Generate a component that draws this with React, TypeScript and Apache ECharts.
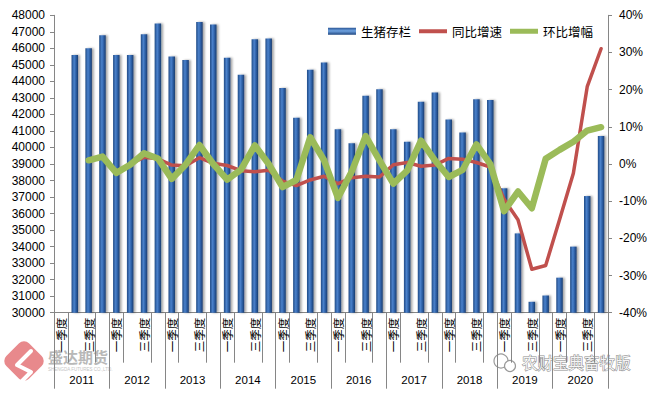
import React, { useEffect, useRef } from "react";
import * as echarts from "echarts";

const years = ["2011", "2012", "2013", "2014", "2015", "2016", "2017", "2018", "2019", "2020"];
const quarterNames = ["一季度", "二季度", "三季度", "四季度"];
const quarterCats: string[] = [];
years.forEach((y) => quarterNames.forEach((q) => quarterCats.push(y + "-" + q)));

// 生猪存栏 (万头)
const stock: (number | string)[] = [
  "-", 45600, 46000, 46800,
  45600, 45600, 46850, 47500,
  45500, 45300, 47600, 47450,
  45430, 44400, 46550, 46600,
  43600, 41800, 44700, 45150,
  41100, 40250, 43130, 43520,
  41100, 40350, 42770, 43320,
  41700, 40900, 42920, 42870,
  37530, 34800, 30660, 31040,
  32120, 34000, 37060, 40690,
];
// 同比增速 (%)
const yoy: (number | string)[] = [
  "-", "-", "-", "-",
  "-", 0.0, 1.8, 1.4,
  -0.3, -0.5, 1.7, 0.2,
  -0.4, -1.8, -2.1, -1.7,
  -4.6, -5.8, -4.3, -3.3,
  -5.3, -3.7, -3.3, -3.5,
  -0.2, 0.4, -0.6, -0.3,
  1.5, 1.3, 0.4, -0.8,
  -9.5, -15.0, -28.3, -27.3,
  -15.0, -2.5, 20.8, 31.0,
];
// 环比增幅 (%)
const qoq: (number | string)[] = [
  "-", "-", 1.0, 2.0,
  -2.4, -0.2, 2.9, 1.5,
  -4.0, -0.2, 5.1, 0.0,
  -4.2, -1.5, 5.0, 0.0,
  -6.2, -4.3, 7.2, 1.0,
  -9.1, -2.0, 7.5, 1.0,
  -5.3, -1.8, 6.3, 1.0,
  -3.5, -1.6, 5.3, 0.0,
  -12.7, -7.4, -11.9, 1.4,
  3.8, 6.0, 9.0, 9.9,
];

const AXIS_COLOR = "#868686";
const LATIN = "'Liberation Sans', Arial, sans-serif";
const CJK = "'Noto Sans CJK SC', sans-serif";

export default function App() {
  const ref = useRef<HTMLDivElement>(null);
  useEffect(() => {
    document.body.style.margin = "0";
    const chart = echarts.init(ref.current!, null, { renderer: "svg" });
    const barGrad = new echarts.graphic.LinearGradient(0, 0, 1, 0, [
      { offset: 0, color: "#1f4a85" },
      { offset: 0.4, color: "#4b82cc" },
      { offset: 0.7, color: "#2c5ea4" },
      { offset: 1, color: "#1a3c6e" },
    ]);
    const legendBarGrad = new echarts.graphic.LinearGradient(0, 0, 0, 1, [
      { offset: 0, color: "#2a5595" },
      { offset: 0.45, color: "#6fa2e0" },
      { offset: 1, color: "#1f4680" },
    ]);
    chart.setOption({
      animation: false,
      backgroundColor: "#ffffff",
      grid: { left: 54, right: 47, top: 15.3, bottom: 81.3, containLabel: false },
      legend: {
        right: 57,
        top: 20,
        itemWidth: 28,
        itemHeight: 7,
        itemGap: 8,
        textStyle: { fontSize: 12.5, color: "#000", fontFamily: CJK },
        data: [
          { name: "生猪存栏", icon: "path://M0,0h28v7h-28z", itemStyle: { color: legendBarGrad } },
          { name: "同比增速", icon: "path://M0,0h28v4h-28z" },
          { name: "环比增幅", icon: "path://M0,0h28v5h-28z" },
        ],
      },
      xAxis: [
        {
          type: "category",
          data: quarterCats,
          position: "bottom",
          boundaryGap: true,
          axisLine: { show: true, onZero: false, lineStyle: { color: AXIS_COLOR } },
          axisTick: {
            show: true,
            length: 50,
            interval: (index: number) => index % 4 === 1 || index % 4 === 3,
            lineStyle: { color: AXIS_COLOR },
          },
          axisLabel: {
            interval: 1,
            rotate: 90,
            margin: 5,
            fontSize: 11.5,
            fontFamily: CJK,
            color: "#000",
            formatter: (v: string) => v.split("-")[1],
          },
          splitLine: { show: false },
        },
        {
          type: "category",
          data: years,
          position: "bottom",
          boundaryGap: true,
          axisLine: { show: false, onZero: false },
          axisTick: { show: true, length: 76, lineStyle: { color: AXIS_COLOR } },
          axisLabel: { margin: 61, fontSize: 11.5, fontFamily: LATIN, color: "#000" },
          splitLine: { show: false },
        },
      ],
      yAxis: [
        {
          type: "value",
          min: 30000,
          max: 48000,
          interval: 1000,
          axisLine: { show: true, lineStyle: { color: AXIS_COLOR } },
          axisTick: { show: true, length: 4, lineStyle: { color: AXIS_COLOR } },
          axisLabel: {
            fontSize: 12,
            margin: 9,
            color: "#000",
            fontFamily: LATIN,
            formatter: (v: number) => String(v),
          },
          splitLine: { show: false },
        },
        {
          type: "value",
          position: "right",
          min: -40,
          max: 40,
          interval: 10,
          axisLine: { show: true, lineStyle: { color: AXIS_COLOR } },
          axisTick: { show: true, length: 4, lineStyle: { color: AXIS_COLOR } },
          axisLabel: { fontSize: 12, margin: 11, color: "#000", fontFamily: LATIN, formatter: "{value}%" },
          splitLine: { show: false },
        },
      ],
      series: [
        {
          name: "生猪存栏",
          type: "bar",
          xAxisIndex: 0,
          yAxisIndex: 0,
          data: stock,
          barWidth: 6.5,
          itemStyle: {
            color: barGrad,
            shadowColor: "rgba(0,0,0,0.35)",
            shadowBlur: 2,
            shadowOffsetX: 2,
          },
        },
        {
          name: "同比增速",
          type: "line",
          xAxisIndex: 0,
          yAxisIndex: 1,
          data: yoy,
          symbol: "none",
          itemStyle: { color: "#C0504D" },
          lineStyle: { color: "#C0504D", width: 3.5, cap: "round", join: "round" },
          z: 3,
        },
        {
          name: "环比增幅",
          type: "line",
          xAxisIndex: 0,
          yAxisIndex: 1,
          data: qoq,
          symbol: "none",
          itemStyle: { color: "#9BBB59" },
          lineStyle: { color: "#9BBB59", width: 6.5, cap: "round", join: "round" },
          z: 4,
        },
      ],
      graphic: [
        {
          type: "rect",
          x: 24,
          y: 361,
          rotation: Math.PI / 4,
          shape: { x: -16, y: -16, width: 32, height: 32, r: 7 },
          style: { fill: "#E8898C" },
          silent: true,
        },
        {
          type: "polyline",
          shape: { points: [[31, 351], [17, 365], [31, 372], [17, 386]] },
          style: { stroke: "#ffffff", lineWidth: 4, fill: "none", lineCap: "round", lineJoin: "round" },
          silent: true,
        },
        {
          type: "text",
          x: 48,
          y: 356,
          style: { text: "盛达期货", fill: "#b8b8b8", font: "bold 15px 'Noto Sans CJK SC'", verticalAlign: "middle" },
          silent: true,
        },
        {
          type: "text",
          x: 48,
          y: 369,
          style: { text: "SHENGDA FUTURES CO.,LTD.", fontSize: 4.5, fill: "#c4c4c4", fontFamily: LATIN, verticalAlign: "middle" },
          silent: true,
        },
        {
          type: "circle",
          shape: { cx: 501, cy: 361, r: 7 },
          style: { fill: "none", stroke: "#9a9a9a", lineWidth: 1.2 },
          silent: true,
        },
        {
          type: "circle",
          shape: { cx: 510, cy: 366, r: 5.5 },
          style: { fill: "#fff", stroke: "#9a9a9a", lineWidth: 1.2 },
          silent: true,
        },
        {
          type: "text",
          x: 522,
          y: 362,
          style: {
            text: "农财宝典畜牧版",
            font: "15.5px 'Noto Sans CJK SC'",
            fill: "#f4f4f4",
            stroke: "#8a8a8a",
            lineWidth: 1,
            verticalAlign: "middle",
          },
          silent: true,
        },
      ],
    });
    return () => chart.dispose();
  }, []);
  return (
    <div
      ref={ref}
      style={{ position: "fixed", left: 0, top: 0, width: 655, height: 394, background: "#fff" }}
    />
  );
}
